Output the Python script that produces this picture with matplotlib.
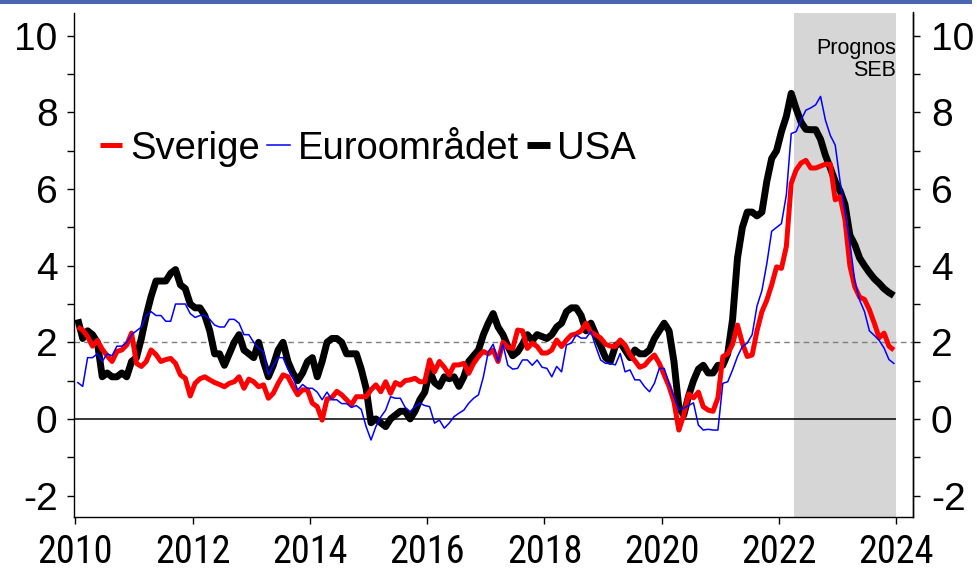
import numpy as np
import matplotlib
matplotlib.use("Agg")
import matplotlib.pyplot as plt
from matplotlib.ticker import MultipleLocator
from matplotlib.patches import Rectangle
from matplotlib import font_manager

plt.rcParams['font.family'] = ['Liberation Sans', 'DejaVu Sans']

# ---------------- data (monthly, Jan 2010 - Dec 2023, y/y %) ----------------
start_year = 2010

sverige = [
    2.40, 2.32, 2.15, 1.90, 2.05, 1.82, 1.65, 1.50, 1.76, 1.80, 1.93, 2.24,   # 2010
    1.45, 1.37, 1.50, 1.80, 1.68, 1.50, 1.55, 1.58, 1.45, 1.15, 1.06, 0.60,   # 2011
    0.93, 1.05, 1.10, 1.02, 0.95, 0.90, 0.84, 0.93, 0.97, 1.10, 0.80, 1.04,   # 2012
    0.97, 0.84, 0.89, 0.54, 0.67, 0.93, 1.15, 1.10, 0.85, 0.63, 0.76, 0.76,   # 2013
    0.41, 0.32, -0.03, 0.52, 0.56, 0.72, 0.63, 0.50, 0.37, 0.58, 0.58, 0.58,  # 2014
    0.76, 0.89, 0.71, 0.97, 0.67, 0.95, 0.88, 1.00, 1.02, 1.06, 0.97, 0.97,   # 2015
    1.54, 1.23, 1.50, 1.35, 1.15, 1.41, 1.41, 1.45, 1.19, 1.45, 1.63, 1.76,   # 2016
    1.70, 1.80, 1.50, 2.00, 1.87, 1.84, 2.32, 2.30, 1.84, 1.98, 1.89, 1.72,   # 2017
    1.72, 1.80, 2.06, 1.89, 2.06, 2.19, 2.22, 2.30, 2.50, 2.26, 2.20, 2.11,   # 2018
    1.95, 1.90, 1.89, 2.06, 1.93, 1.68, 1.52, 1.35, 1.40, 1.55, 1.67, 1.45,   # 2019
    1.15, 0.85, 0.45, -0.29, 0.10, 0.65, 0.55, 0.70, 0.32, 0.23, 0.20, 0.55,  # 2020
    1.63, 1.70, 1.95, 2.45, 1.98, 1.63, 1.67, 2.30, 2.80, 3.10, 3.50, 3.97,   # 2021
    3.93, 4.50, 6.15, 6.50, 6.68, 6.75, 6.55, 6.55, 6.60, 6.65, 6.65, 5.72,   # 2022
    5.80, 5.20, 4.00, 3.45, 3.18, 3.12, 2.85, 2.50, 2.12, 2.24, 1.90, 1.80,   # 2023
]

euroomradet = [
    0.95, 0.85, 1.60, 1.60, 1.70, 1.50, 1.70, 1.65, 1.90, 1.90, 2.00, 2.20,   # 2010
    2.30, 2.40, 2.70, 2.80, 2.70, 2.70, 2.55, 2.55, 3.00, 3.00, 3.00, 2.75,   # 2011
    2.65, 2.70, 2.70, 2.60, 2.45, 2.40, 2.40, 2.60, 2.60, 2.50, 2.20, 2.20,   # 2012
    2.00, 1.85, 1.75, 1.15, 1.40, 1.60, 1.60, 1.30, 1.10, 0.75, 0.90, 0.80,   # 2013
    0.80, 0.70, 0.50, 0.70, 0.50, 0.50, 0.40, 0.40, 0.30, 0.35, 0.25, -0.20,  # 2014
    -0.55, -0.20, 0.05, 0.23, 0.58, 0.54, 0.54, 0.30, 0.19, 0.32, 0.41, 0.35, # 2015
    0.32, -0.11, -0.03, -0.24, -0.11, 0.06, 0.15, 0.23, 0.41, 0.54, 0.63, 1.10,  # 2016
    1.75, 1.95, 1.50, 1.95, 1.40, 1.30, 1.32, 1.54, 1.54, 1.40, 1.54, 1.35,   # 2017
    1.32, 1.10, 1.37, 1.23, 1.93, 1.98, 2.19, 2.11, 2.11, 2.28, 1.89, 1.54,   # 2018
    1.45, 1.45, 1.41, 1.71, 1.23, 1.28, 1.02, 1.02, 0.84, 0.71, 0.93, 1.32,   # 2019
    1.32, 0.93, 0.58, 0.23, 0.28, 0.35, 0.42, -0.16, -0.29, -0.27, -0.29, -0.29,  # 2020
    0.93, 0.97, 1.28, 1.63, 1.89, 1.98, 2.20, 2.95, 3.35, 4.05, 4.90, 5.00,   # 2021
    5.10, 5.85, 7.45, 7.50, 7.80, 8.06, 8.12, 8.20, 8.42, 7.80, 7.40, 7.15,   # 2022
    6.20, 5.40, 4.60, 3.60, 3.10, 2.80, 2.30, 2.18, 2.05, 1.85, 1.55, 1.45,   # 2023
]

usa = [
    2.60, 2.10, 2.30, 2.20, 2.00, 1.10, 1.20, 1.10, 1.10, 1.20, 1.10, 1.50,   # 2010
    1.60, 2.10, 2.70, 3.20, 3.60, 3.60, 3.60, 3.80, 3.90, 3.50, 3.40, 3.00,   # 2011
    2.90, 2.90, 2.70, 2.30, 1.70, 1.70, 1.40, 1.70, 2.00, 2.20, 1.80, 1.70,   # 2012
    1.60, 2.00, 1.50, 1.10, 1.40, 1.80, 2.00, 1.50, 1.20, 1.00, 1.20, 1.50,   # 2013
    1.60, 1.10, 1.50, 2.00, 2.10, 2.10, 2.00, 1.70, 1.70, 1.70, 1.30, 0.80,   # 2014
    -0.10, 0.00, -0.10, -0.20, 0.00, 0.10, 0.20, 0.20, 0.00, 0.20, 0.50, 0.70,  # 2015
    1.25, 0.95, 0.85, 1.10, 1.05, 1.10, 0.85, 1.10, 1.50, 1.65, 1.80, 2.20,   # 2016
    2.50, 2.75, 2.40, 2.20, 1.90, 1.65, 1.75, 1.95, 2.20, 2.05, 2.20, 2.15,   # 2017
    2.10, 2.20, 2.40, 2.50, 2.80, 2.90, 2.90, 2.70, 2.30, 2.50, 2.20, 1.90,   # 2018
    1.60, 1.50, 1.90, 2.00, 1.80, 1.60, 1.80, 1.70, 1.70, 1.80, 2.10, 2.30,   # 2019
    2.50, 2.30, 1.50, 0.30, 0.10, 0.60, 1.00, 1.30, 1.40, 1.20, 1.20, 1.40,   # 2020
    1.40, 1.70, 2.60, 4.20, 5.00, 5.40, 5.40, 5.30, 5.40, 6.20, 6.80, 7.00,   # 2021
    7.50, 7.90, 8.50, 8.10, 7.75, 7.56, 7.55, 7.55, 7.30, 6.88, 6.55, 6.20,   # 2022
    5.95, 5.60, 4.80, 4.55, 4.20, 4.00, 3.82, 3.66, 3.54, 3.40, 3.30, 3.22,   # 2023
]

series_labels = ["Sverige", "Euroområdet", "USA"]
forecast_span = (2022.25, 2024.0)
forecast_text = "Prognos\nSEB"
target_level = 2.0
x_ticks = [2010, 2012, 2014, 2016, 2018, 2020, 2022, 2024]
y_ticks = [-2, 0, 2, 4, 6, 8, 10]

# narrow font for the year labels if one is installed
xfam, xsize = ['Liberation Sans', 'DejaVu Sans'], 25
for cand in ['Liberation Sans Narrow', 'Arial Narrow', 'Roboto Condensed',
             'Open Sans Condensed']:
    try:
        font_manager.findfont(cand, fallback_to_default=False)
        xfam, xsize = [cand, 'DejaVu Sans'], 27.5
        break
    except Exception:
        pass

# ---------------- figure ----------------
W, H = 977, 568
fig = plt.figure(figsize=(W / 100, H / 100), dpi=100)
left_px, right_px, top_px, bottom_px = 73.5, 912.7, 12.5, 517
ax = fig.add_axes([left_px / W, (H - bottom_px) / H,
                   (right_px - left_px) / W, (bottom_px - top_px) / H])

months = np.arange(len(usa))
x = start_year + (months + 0.5) / 12.0

ax.axvspan(*forecast_span, color='#d6d6d6', lw=0, zorder=0)
ax.axhline(target_level, color='#7f7f7f', lw=1.0, ls=(0, (4, 3)), zorder=1)
ax.hlines(0, x_ticks[0], x_ticks[-1], color='black', lw=1.1, zorder=1)

l_usa, = ax.plot(x, usa, color='black', lw=5.0, solid_joinstyle='round',
                 solid_capstyle='butt', zorder=3, label=series_labels[2])
l_se, = ax.plot(x, sverige, color='#ff0000', lw=3.6, solid_joinstyle='round',
                solid_capstyle='butt', zorder=4, label=series_labels[0])
l_eu, = ax.plot(x, euroomradet, color='#0000ff', lw=1.1, solid_joinstyle='round',
                zorder=5, label=series_labels[1])

ax.set_xlim(2009.968, 2024.28)
ax.set_ylim(-2.56, 10.61)

ax.set_xticks(x_ticks)
ax.set_xticklabels([str(t) for t in x_ticks], family=xfam)
ax.set_yticks(y_ticks)
ax.set_yticklabels([str(t) for t in y_ticks])
ax.yaxis.set_minor_locator(MultipleLocator(1))

for s in ['left', 'bottom', 'right']:
    ax.spines[s].set_linewidth(1.0)
ax.spines['top'].set_visible(False)

ax.tick_params(axis='x', which='major', direction='out', length=5, width=1.0,
               labelsize=xsize, pad=7)
ax.tick_params(axis='y', which='both', direction='out', length=5, width=1.0,
               labelsize=28, pad=6.5, left=True, right=False)

ax2 = ax.twinx()
ax2.set_ylim(ax.get_ylim())
ax2.set_yticks(y_ticks)
ax2.set_yticklabels([str(t) for t in y_ticks])
ax2.yaxis.set_minor_locator(MultipleLocator(1))
ax2.tick_params(axis='y', which='both', direction='out', length=5, width=1.0,
                labelsize=28, pad=8)
for s in ['left', 'bottom', 'top']:
    ax2.spines[s].set_visible(False)
ax2.spines['right'].set_linewidth(1.0)

ax.text(2023.99, 9.95, forecast_text, ha='right', va='top', fontsize=15.5,
        linespacing=1.1, zorder=6)

leg = ax.legend(handles=[l_se, l_eu, l_usa], labels=series_labels, ncol=3,
                loc='center left', bbox_to_anchor=(0.031, 0.73), frameon=False,
                fontsize=27.5, handlelength=0.6, handletextpad=0.2,
                columnspacing=0.2, borderpad=0, borderaxespad=0)

fig.add_artist(Rectangle((0, 1 - 3.5 / H), 972 / W, 3.5 / H,
                         transform=fig.transFigure, color='#4a66b2', lw=0))

fig.savefig('out.png', dpi=100)
